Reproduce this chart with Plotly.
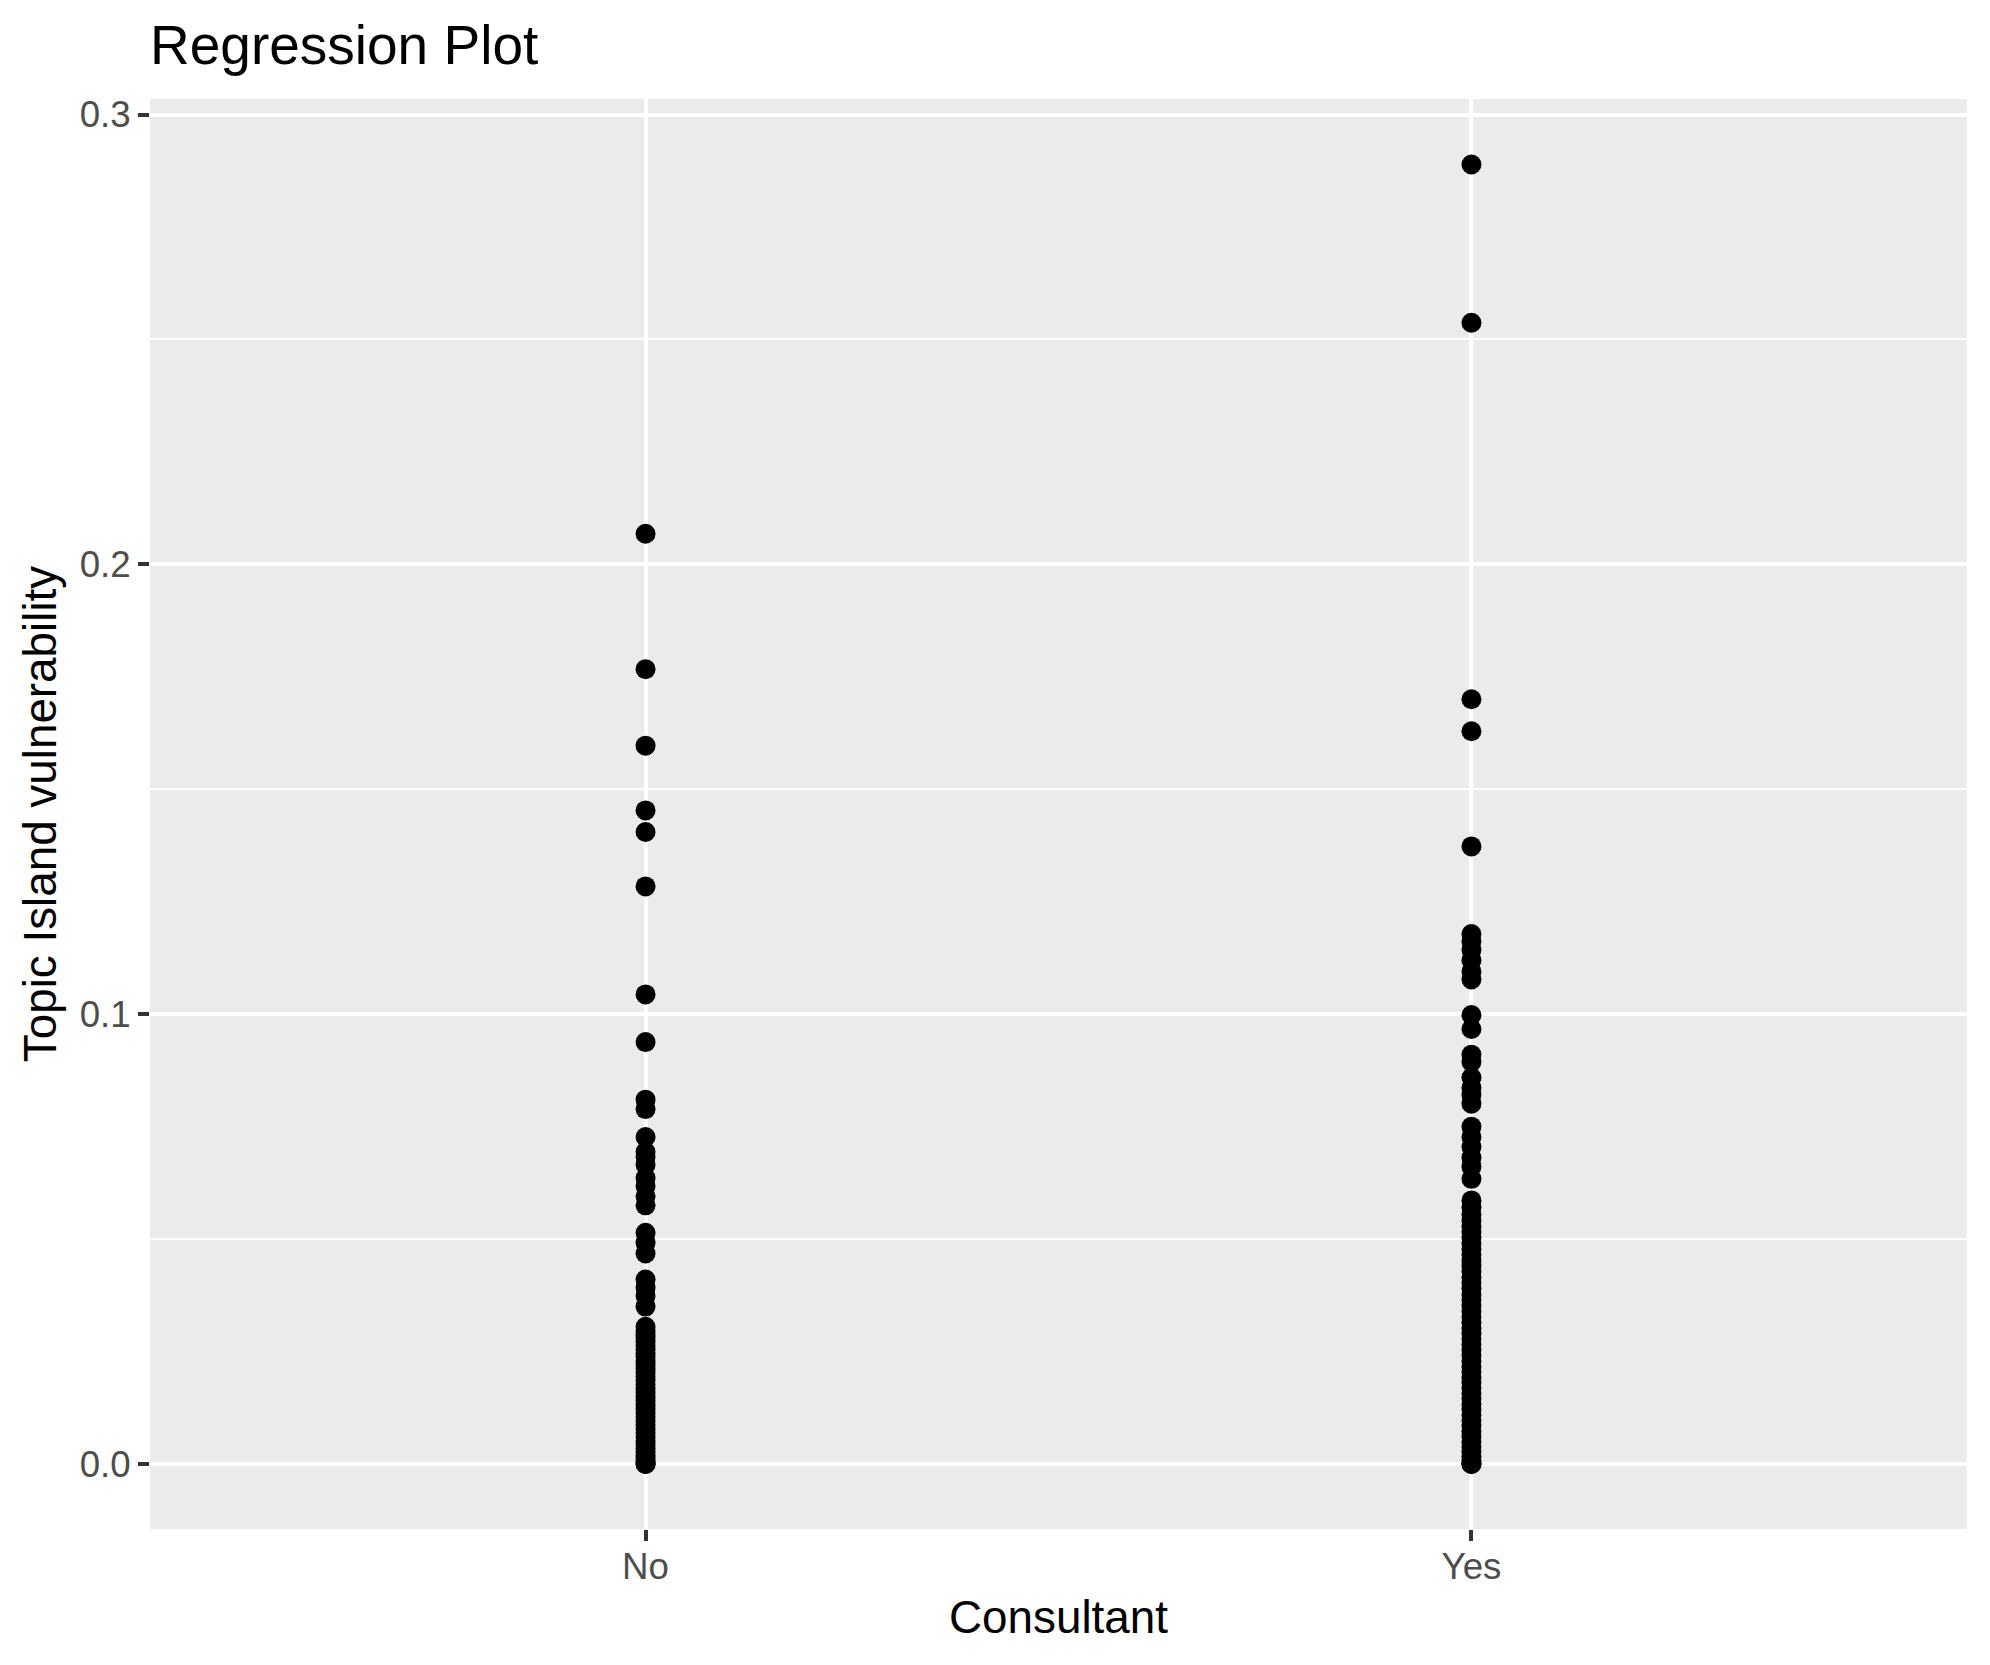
import plotly.graph_objects as go

categories = ["No", "Yes"]

no_values = [
    0.2068, 0.1767, 0.1597, 0.1453, 0.1405, 0.1284, 0.1044, 0.0938,
    0.0810, 0.0789, 0.0727,
    0.0694, 0.0683, 0.0665, 0.0636, 0.0618, 0.0595, 0.0575,
    0.0514, 0.0492, 0.0468,
    0.0410, 0.0392, 0.0374, 0.0350,
    0.0305, 0.0296, 0.0288, 0.0281, 0.0272, 0.0263, 0.0255, 0.0246, 0.0238,
    0.0229, 0.0221, 0.0212, 0.0203, 0.0194, 0.0186, 0.0177, 0.0168, 0.0159,
    0.0150, 0.0141, 0.0132, 0.0123, 0.0114, 0.0105, 0.0096, 0.0087, 0.0078,
    0.0069, 0.0060, 0.0051, 0.0043, 0.0035, 0.0027, 0.0019, 0.0012, 0.0006,
    0.0002, 0.0, 0.0,
]

yes_values = [
    0.2889, 0.2537, 0.1700, 0.1629, 0.1373,
    0.1178, 0.1162, 0.1143, 0.1120, 0.1095, 0.1077,
    0.0998, 0.0967,
    0.0910, 0.0894, 0.0859, 0.0836, 0.0821, 0.0801,
    0.0750, 0.0727, 0.0705, 0.0681, 0.0661, 0.0634,
    0.0586, 0.0571, 0.0555, 0.0541, 0.0528, 0.0516, 0.0503, 0.0491, 0.0478,
    0.0466, 0.0452, 0.0441, 0.0428, 0.0415, 0.0403, 0.0390, 0.0377, 0.0365,
    0.0352, 0.0340, 0.0327, 0.0315, 0.0302, 0.0290, 0.0278, 0.0266, 0.0254,
    0.0241, 0.0229, 0.0217, 0.0205, 0.0193, 0.0181, 0.0169, 0.0157, 0.0145,
    0.0133, 0.0121, 0.0109, 0.0097, 0.0085, 0.0073, 0.0061, 0.0049, 0.0038,
    0.0027, 0.0017, 0.0008, 0.0002, 0.0, 0.0,
]

y_major_ticks = [0.0, 0.1, 0.2, 0.3]
y_tick_labels = ["0.0", "0.1", "0.2", "0.3"]
y_minor_ticks = [0.05, 0.15, 0.25]

FONT = "Liberation Sans, Arial, Helvetica, sans-serif"
W, H = 1982, 1657

fig = go.Figure()
for cat, vals in zip(categories, [no_values, yes_values]):
    fig.add_trace(go.Scatter(
        x=[cat] * len(vals), y=vals, mode="markers",
        marker=dict(color="black", size=20, line=dict(width=0)),
        showlegend=False, hoverinfo="y",
    ))

fig.update_layout(
    width=W, height=H,
    margin=dict(l=142, r=23, t=91, b=136),
    paper_bgcolor="white", plot_bgcolor="#EBEBEB",
    font=dict(family=FONT, color="black"),
    title=dict(text="Regression Plot", x=142 / W, xref="container", xanchor="left",
               y=1 - 37 / H, yref="container", yanchor="middle",
               font=dict(size=55, color="black", family=FONT)),
    xaxis=dict(
        type="category", categoryorder="array", categoryarray=categories,
        range=[-0.6, 1.6], showgrid=True, gridcolor="white", gridwidth=4.4,
        zeroline=False, showline=False,
        ticks="outside", ticklen=11, tickwidth=4, tickcolor="#333333",
        ticklabelstandoff=-6,
        tickfont=dict(size=36.7, color="#4D4D4D", family=FONT),
        title=dict(text="Consultant", font=dict(size=45.8, color="black", family=FONT), standoff=14),
    ),
    yaxis=dict(
        range=[-0.01445, 0.30345], tickvals=y_major_ticks, ticktext=y_tick_labels,
        showgrid=True, gridcolor="white", gridwidth=4.4,
        zeroline=False, showline=False,
        ticks="outside", ticklen=11, tickwidth=4, tickcolor="#333333",
        tickfont=dict(size=36.7, color="#4D4D4D", family=FONT),
        minor=dict(tickvals=y_minor_ticks, showgrid=True, gridcolor="white", gridwidth=2.2, ticks=""),
        title=dict(text="Topic Island vulnerability", font=dict(size=45.8, color="black", family=FONT), standoff=8),
    ),
)

fig.write_html("out.html")
